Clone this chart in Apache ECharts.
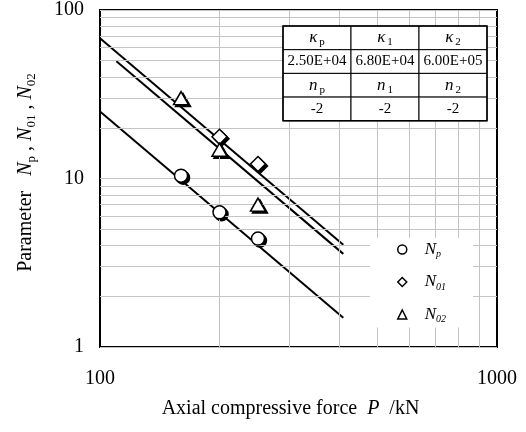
<!DOCTYPE html>
<html>
<head>
<meta charset="utf-8">
<script src="https://cdn.jsdelivr.net/npm/echarts@6/dist/echarts.min.js"></script>
<style>
  html, body { margin: 0; padding: 0; background: #fff; }
  #chart { width: 526px; height: 432px; }
</style>
</head>
<body>
<div id="chart"></div>
<script>
const FONT = '"Liberation Serif", "Times New Roman", serif';

// Measured parameters against axial compressive force (kN)
const forceNp = [160, 200, 250];
const valuesNp = [10.4, 6.3, 4.4];
const forceN01 = [200, 250];
const valuesN01 = [17.7, 12.2];
const forceN02 = [160, 200, 250];
const valuesN02 = [30, 14.8, 7.0];

// Fitted power-law lines (end points, straight on log-log axes)
const fitNp = [[100, 25], [410, 1.49]];
const fitN01 = [[100, 68], [410, 4.05]];
const fitN02 = [[110, 49.6], [410, 3.57]];

// Minor grid values of the logarithmic axes
const xMinorGrid = [200, 300, 400, 500, 600, 700, 800, 900];
const yMinorGrid = [2, 3, 4, 5, 6, 7, 8, 9, 20, 30, 40, 50, 60, 70, 80, 90];

// Coefficient table
const coefSubs = ['p', '1', '2'];
const kappaValues = ['2.50E+04', '6.80E+04', '6.00E+05'];
const exponentValues = ['-2', '-2', '-2'];

// Legend entries
const legendNames = ['Np', 'N01', 'N02'];
const legendSubs = { Np: 'p', N01: '01', N02: '02' };

const pairs = (xs, ys) => xs.map((x, i) => [x, ys[i]]);

const markerStyle = { color: '#fff', borderColor: '#000', borderWidth: 1.5, opacity: 1 };
const shadowStyle = { color: '#000', borderColor: '#000', borderWidth: 1.5, opacity: 1 };

const fitLine = (name, data) => ({
  name: name,
  type: 'line',
  data: data,
  showSymbol: false,
  symbol: 'none',
  silent: true,
  z: 3,
  lineStyle: { color: '#000', width: 2 }
});

// Marker pair: a dark offset copy underneath, then the open marker on top
const markerSeries = (name, symbol, size, xs, ys) => [
  {
    name: name + '-shadow', type: 'scatter', symbol: symbol, symbolSize: size,
    symbolOffset: [2, 2], z: 4, silent: true,
    itemStyle: shadowStyle, data: pairs(xs, ys)
  },
  {
    name: name, type: 'scatter', symbol: symbol, symbolSize: size, z: 5,
    itemStyle: markerStyle, data: pairs(xs, ys)
  }
];

// Table cells built as graphic elements
const cellW = 68, cellH = 23.7;
const tableRows = [
  coefSubs.map(s => '{k|κ}{s|' + s + '}'),
  kappaValues,
  coefSubs.map(s => '{n|n}{s|' + s + '}'),
  exponentValues
];
const tableChildren = [];
tableRows.forEach((row, r) => {
  row.forEach((text, c) => {
    tableChildren.push({
      type: 'rect',
      z: 100,
      shape: { x: c * cellW, y: r * cellH, width: cellW, height: cellH },
      style: { fill: '#fff', stroke: '#000', lineWidth: 1 }
    });
    tableChildren.push({
      type: 'text',
      z: 101,
      style: {
        text: text,
        x: c * cellW + cellW / 2,
        y: r * cellH + cellH / 2,
        align: 'center',
        verticalAlign: 'middle',
        fontFamily: FONT,
        fontSize: 15,
        fill: '#000',
        rich: {
          k: { fontFamily: FONT, fontSize: 17, fontStyle: 'italic', lineHeight: 20, fill: '#000' },
          n: { fontFamily: FONT, fontSize: 17, fontStyle: 'italic', lineHeight: 20, fill: '#000' },
          s: { fontFamily: FONT, fontSize: 11, lineHeight: 10, verticalAlign: 'bottom', fill: '#000', padding: [0, 0, 0, 2] }
        }
      }
    });
  });
});
tableChildren.push({
  type: 'rect',
  z: 102,
  shape: { x: 0, y: 0, width: cellW * 3, height: cellH * 4 },
  style: { fill: 'none', stroke: '#000', lineWidth: 1.5 }
});

const chart = echarts.init(document.getElementById('chart'), null, { renderer: 'canvas' });

chart.setOption({
  animation: false,
  backgroundColor: '#fff',
  textStyle: { fontFamily: FONT, color: '#000' },
  grid: {
    left: 100, right: 29, top: 10, bottom: 85,
    show: true, borderColor: '#000', borderWidth: 2,
    backgroundColor: 'transparent',
    containLabel: false,
    outerBoundsMode: 'none'
  },
  xAxis: {
    type: 'log',
    logBase: 10,
    min: 100,
    max: 1000,
    axisLine: { show: false },
    axisTick: { show: false },
    splitLine: { show: false },
    axisLabel: { fontFamily: FONT, fontSize: 20, color: '#000', margin: 22, formatter: v => String(v) },
    name: 'Axial compressive force  {i|P}  /kN',
    nameLocation: 'middle',
    nameGap: 52,
    nameTextStyle: {
      fontFamily: FONT, fontSize: 20, color: '#000', padding: [0, 16, 0, 0],
      rich: { i: { fontFamily: FONT, fontSize: 20, fontStyle: 'italic', color: '#000' } }
    }
  },
  yAxis: {
    type: 'log',
    logBase: 10,
    min: 1,
    max: 100,
    axisLine: { show: false },
    axisTick: { show: false },
    splitLine: { show: true, lineStyle: { color: '#c4c4c4', width: 1 } },
    axisLabel: { fontFamily: FONT, fontSize: 20, color: '#000', margin: 16, formatter: v => String(v) },
    name: 'Parameter   {i|N}{s|p} , {i|N}{s|01} , {i|N}{s|02}',
    nameLocation: 'middle',
    nameRotate: 90,
    nameGap: 62,
    nameTextStyle: {
      fontFamily: FONT, fontSize: 20, color: '#000', lineHeight: 24, padding: [0, 0, 0, 12],
      rich: {
        i: { fontFamily: FONT, fontSize: 20, fontStyle: 'italic', color: '#000', lineHeight: 24 },
        s: { fontFamily: FONT, fontSize: 13, color: '#000', lineHeight: 13, verticalAlign: 'bottom' }
      }
    }
  },
  legend: {
    data: legendNames,
    orient: 'vertical',
    left: 370,
    top: 238,
    padding: [3, 27, 3, 27],
    itemGap: 14,
    itemWidth: 9,
    itemHeight: 9,
    backgroundColor: '#fff',
    selectedMode: false,
    itemStyle: { color: '#fff', borderColor: '#000', borderWidth: 1.5 },
    formatter: name => '{g|}{n|N}{s|' + legendSubs[name] + '}',
    textStyle: {
      color: '#000',
      rich: {
        g: { width: 13, lineHeight: 20 },
        n: { fontFamily: FONT, fontSize: 17, fontStyle: 'italic', color: '#000', lineHeight: 20 },
        s: { fontFamily: FONT, fontSize: 10, fontStyle: 'italic', color: '#000', lineHeight: 9, verticalAlign: 'bottom' }
      }
    },
    z: 6
  },
  graphic: {
    elements: [{ type: 'group', x: 283, y: 26, z: 100, silent: true, children: tableChildren }]
  },
  series: [
    {
      name: 'grid',
      type: 'line',
      data: [],
      silent: true,
      z: 1,
      markLine: {
        silent: true,
        symbol: 'none',
        animation: false,
        label: { show: false },
        lineStyle: { color: '#c4c4c4', width: 1, type: 'solid' },
        emphasis: { disabled: true },
        data: xMinorGrid.map(v => ({ xAxis: v })).concat(yMinorGrid.map(v => ({ yAxis: v })))
      }
    },
    fitLine('fitNp', fitNp),
    fitLine('fitN01', fitN01),
    fitLine('fitN02', fitN02)
  ]
    .concat(markerSeries('Np', 'circle', 13, forceNp, valuesNp))
    .concat(markerSeries('N01', 'diamond', 15, forceN01, valuesN01))
    .concat(markerSeries('N02', 'triangle', [15, 13], forceN02, valuesN02))
});
</script>
</body>
</html>
